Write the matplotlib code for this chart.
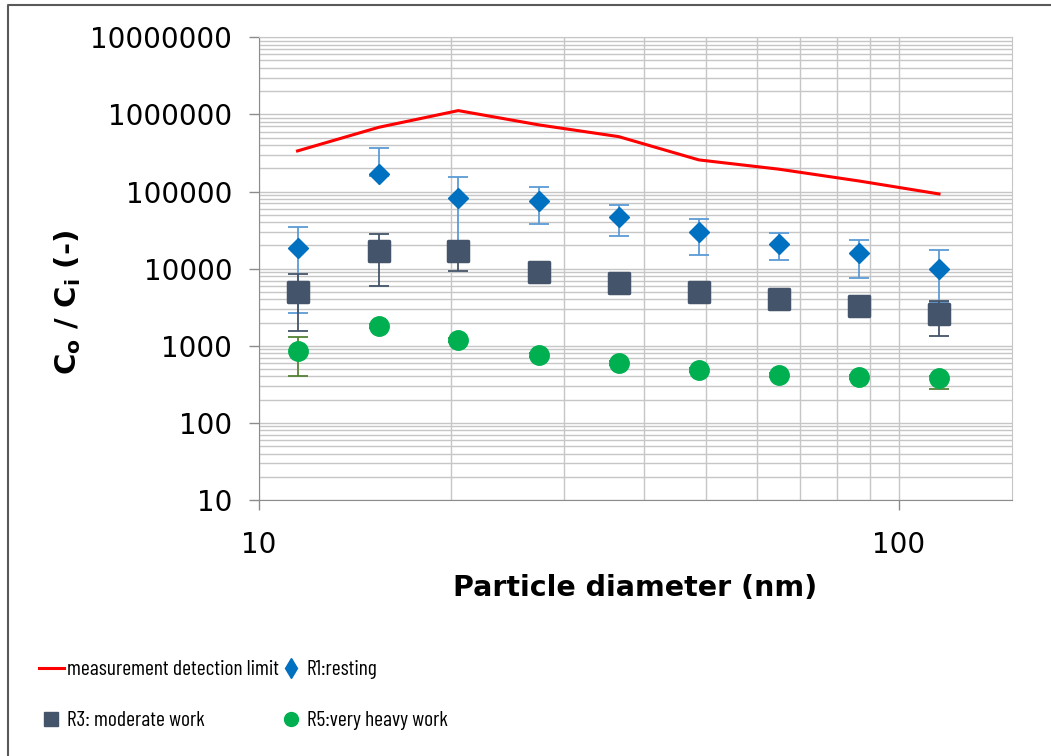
import matplotlib.pyplot as plt
import matplotlib.ticker as ticker
from matplotlib.lines import Line2D
from matplotlib.markers import MarkerStyle
import numpy as np

# particle diameters (nm)
diam = [11.5, 15.4, 20.5, 27.4, 36.5, 48.7, 64.9, 86.6, 115.5]

# measurement detection limit
detection_limit = [336000, 680000, 1120000, 731000, 515000, 257000, 195000, 137000, 93000]

# R1: resting
r1 = [18700, 167000, 83400, 75500, 46800, 29900, 20900, 15800, 9820]
r1_low = [2660, 160000, 15000, 37700, 26300, 14900, 13000, 7500, 3700]
r1_high = [34400, 364000, 153000, 114000, 66400, 44600, 28800, 23800, 17500]

# R3: moderate work
r3 = [4940, 17100, 17000, 8980, 6530, 5040, 4010, 3250, 2580]
r3_low = [1550, 5970, 9250, 8300, 6000, 4650, 3700, 3000, 1330]
r3_high = [8450, 28200, 19000, 9700, 7100, 5450, 4350, 3500, 3800]

# R5: very heavy work
r5 = [865, 1810, 1180, 760, 598, 486, 418, 394, 387]
r5_low = [409, 1700, 1110, 715, 562, 457, 393, 370, 278]
r5_high = [1310, 1920, 1250, 805, 634, 515, 443, 418, 410]

ytick_vals = [10, 100, 1000, 10000, 100000, 1000000, 10000000]
xtick_vals = [10, 100]


def err(vals, lows, highs):
    v = np.array(vals, dtype=float)
    return [v - np.array(lows), np.array(highs) - v]


fig = plt.figure(figsize=(10.51, 7.56), dpi=100)
ax = fig.add_axes([0.2461, 0.3386, 0.7165, 0.6121])

ax.plot(diam, detection_limit, color='#FF0000', lw=2.2, zorder=3)

# R1
ax.errorbar(diam, r1, yerr=err(r1, r1_low, r1_high), fmt='none', ecolor='#5B9BD5',
            elinewidth=1.3, capsize=7, capthick=1.3, zorder=4)
ax.plot(diam, r1, ls='none', marker='D', ms=10.5, color='#0070C0', zorder=4.5)
# R3
ax.errorbar(diam, r3, yerr=err(r3, r3_low, r3_high), fmt='none', ecolor='#44546A',
            elinewidth=1.3, capsize=7, capthick=1.3, zorder=5)
ax.plot(diam, r3, ls='none', marker=MarkerStyle('s', joinstyle='round'), ms=15,
        mew=2.5, color='#44546A', zorder=5.5)
# R5
ax.errorbar(diam, r5, yerr=err(r5, r5_low, r5_high), fmt='none', ecolor='#548235',
            elinewidth=1.3, capsize=7, capthick=1.3, zorder=6)
ax.plot(diam, r5, ls='none', marker='o', ms=14, color='#00B050', zorder=6.5)

ax.set_xscale('log')
ax.set_yscale('log')
ax.set_xlim(10, 150)
ax.set_ylim(10, 10000000)

ax.xaxis.set_major_locator(ticker.FixedLocator(xtick_vals))
ax.xaxis.set_major_formatter(ticker.FuncFormatter(lambda v, p: '%d' % v))
ax.xaxis.set_minor_locator(ticker.LogLocator(base=10, subs=np.arange(2, 10)))
ax.xaxis.set_minor_formatter(ticker.NullFormatter())
ax.yaxis.set_major_locator(ticker.FixedLocator(ytick_vals))
ax.yaxis.set_major_formatter(ticker.FuncFormatter(lambda v, p: '%d' % v))
ax.yaxis.set_minor_locator(ticker.LogLocator(base=10, subs=np.arange(2, 10), numticks=20))
ax.yaxis.set_minor_formatter(ticker.NullFormatter())

ax.grid(True, which='both', color='#C6C6C6', lw=1.0, zorder=0)
ax.set_axisbelow(True)
ax.tick_params(which='major', length=7, width=1, color='#8C8C8C',
               labelsize=20, pad=12)
ax.tick_params(axis='x', which='major', pad=15)
ax.tick_params(which='minor', length=0)
for s in ['left', 'bottom']:
    ax.spines[s].set_color('#8C8C8C')
for s in ['top', 'right']:
    ax.spines[s].set_color('#C6C6C6')

ax.set_xlabel('Particle diameter (nm)', fontsize=20.5, fontweight='bold')
ax.xaxis.set_label_coords(0.5, -0.16)
ax.set_ylabel(r'C$_\mathbf{o}$ / C$_\mathbf{i}$ (-)', fontsize=21, fontweight='bold')
ax.yaxis.set_label_coords(-0.233, 0.428)

# legend below the plot
h_line = Line2D([], [], color='#FF0000', lw=2.2)
h_r1 = Line2D([], [], ls='none', marker='d', color='#0070C0', ms=10)
h_r3 = Line2D([], [], ls='none', marker='s', color='#44546A', ms=10)
h_r5 = Line2D([], [], ls='none', marker='o', color='#00B050', ms=10)
fig.legend(handles=[h_line, h_r3, h_r1, h_r5],
           labels=['measurement detection limit', 'R3: moderate work',
                   'R1:resting', 'R5:very heavy work'],
           ncol=2, loc='upper left', bbox_to_anchor=(39 / 1051, 1 - 660 / 756),
           frameon=False, borderpad=0, borderaxespad=0, handlelength=1.15,
           handletextpad=0.15, columnspacing=0.0, labelspacing=1.5,
           prop={'family': ['Barlow Condensed', 'DejaVu Sans'], 'size': 15.5})

# outer chart border (top and left edges visible)
fig.add_artist(Line2D([8 / 1051, 8 / 1051, 1], [0, 1 - 5 / 756, 1 - 5 / 756],
                      transform=fig.transFigure, color='#595959', lw=1.5))

fig.savefig('out.png', dpi=100)
